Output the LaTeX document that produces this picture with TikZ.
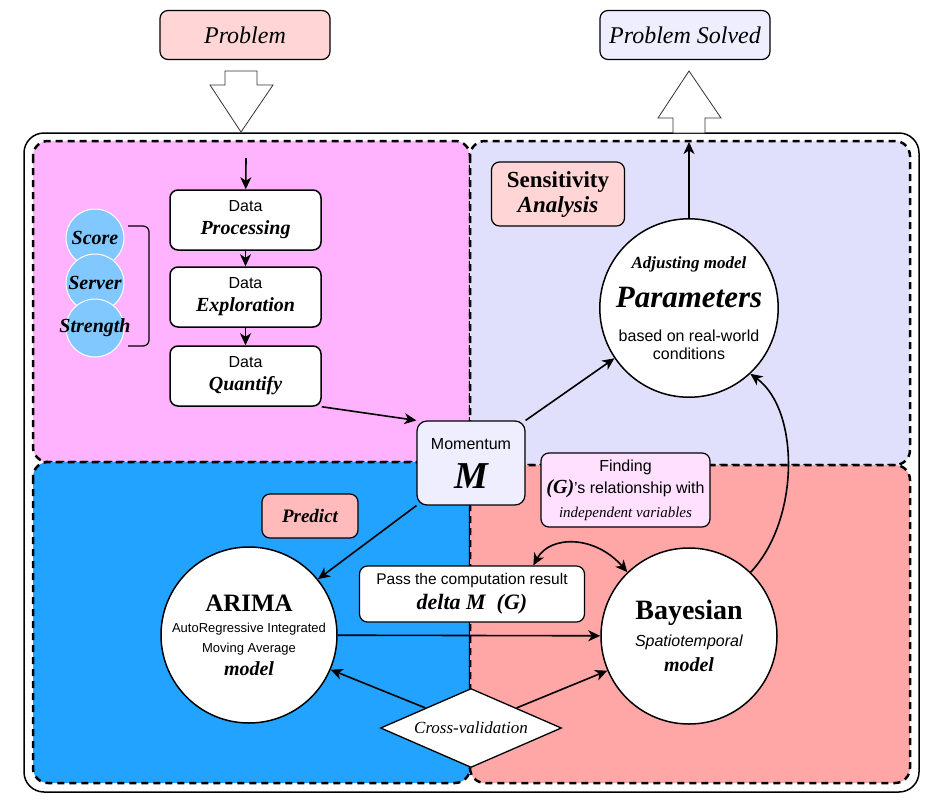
\documentclass[tikz,border=0pt]{standalone}
\usepackage{fontspec}
\setmainfont{Liberation Serif}
\setsansfont{Liberation Sans}
\usetikzlibrary{arrows.meta,shapes.geometric}

\definecolor{pinkzone}{HTML}{FFB3FF}
\definecolor{lavzone}{HTML}{E0E0FC}
\definecolor{bluezone}{HTML}{22A3FF}
\definecolor{salmonzone}{HTML}{FFA6A6}
\definecolor{rosefill}{HTML}{FFD5D5}
\definecolor{palefill}{HTML}{EEEEFF}
\definecolor{predfill}{HTML}{FFBBBB}
\definecolor{findfill}{HTML}{FFE0FF}
\definecolor{dotfill}{HTML}{80C8FF}

\newcommand{\pxfont}[2]{\fontsize{#1}{#2}\selectfont}
\newcommand{\bfit}{\rmfamily\bfseries\itshape}
\lineskiplimit=-100pt

\tikzstyle{zone}=[draw,line width=2.5pt,dash pattern=on 7pt off 5pt,rounded corners=15pt]
\tikzstyle{tagbox}=[draw,line width=1.2pt,rounded corners=8pt,align=center,inner sep=0pt]
\tikzstyle{databox}=[draw,line width=1.5pt,rounded corners=8pt,fill=white,minimum width=151pt,minimum height=60pt,align=center,inner sep=0pt,font=\sffamily\pxfont{16}{23}]
\tikzstyle{model}=[draw,line width=1.5pt,circle,fill=white,minimum size=176pt,inner sep=0pt,align=center]
\tikzstyle{factor}=[circle,draw=white,line width=1pt,fill=dotfill,minimum size=58pt,inner sep=0pt,font=\bfit\pxfont{20}{20}]
\tikzstyle{link}=[draw,line width=1.6pt,>={Stealth[length=12pt,width=11pt,inset=3.5pt]},->]
\tikzstyle{bigarrow}=[draw=black!80,line width=0.8pt,fill=white]

\begin{document}
\begin{tikzpicture}[x=1pt, y=-1pt]
    \useasboundingbox (0,0) rectangle (943,807);
    % First we draw the frame and the four zones
    \draw[line width=1.5pt, rounded corners=20pt] (24,133) rectangle (919,792);
    \foreach \xa/\ya/\xb/\yb/\col in {33/141/470/462/pinkzone, 470/141/910/465/lavzone, 33/462/470/783/bluezone, 470/465/910/783/salmonzone}
        \draw[zone, fill=\col] (\xa,\ya) rectangle (\xb,\yb);

    % Problem in, problem solved out
    \node[tagbox, fill=rosefill, minimum width=170pt, minimum height=49pt, font=\itshape\pxfont{24}{24}] (prob) at (245,35) {Problem};
    \node[tagbox, fill=palefill, minimum width=170pt, minimum height=49pt, font=\itshape\pxfont{24}{24}] (solved) at (685,35) {Problem Solved};
    \path[bigarrow] (225,71) -- (257,71) -- (257,85) -- (273,85) -- (241,132) -- (210,85) -- (225,85) -- cycle;
    \path[bigarrow] (689,71) -- (721,118) -- (705,118) -- (705,133) -- (673,133) -- (673,118) -- (658,118) -- cycle;

    % Data pipeline
    \foreach \y/\name/\word in {220/proc/Processing, 297/expl/Exploration, 376/quan/Quantify}
        \node[databox] (\name) at (245.5,\y) {Data\\{\bfit\pxfont{20}{20}\word}};
    \coordinate (start) at (246,158);
    \foreach \source/\dest in {start/proc, proc/expl, expl/quan}
        \path[link] (\source) -- (\dest);

    % Factors and their bracket
    \foreach \y/\name/\word in {238/score/Score, 283/server/Server, 328/strength/Strength}
        \node[factor] (\name) at (95,\y) {\makebox[0pt]{\word}};
    \draw[line width=1.2pt, rounded corners=6pt] (128,226) -- (149,226) -- (149,346) -- (128,346);

    % Momentum, labels and models
    \node[tagbox, fill=palefill, minimum width=108pt, minimum height=84pt, rounded corners=10pt, font=\sffamily\pxfont{16}{39}] (mom) at (471,463) {Momentum\\{\bfit\pxfont{38}{38}M}};
    \node[model, font=\sffamily\pxfont{16}{18}] (params) at (689,308) {{\bfit\pxfont{17}{17}Adjusting model}\\[21pt]{\bfit\pxfont{31}{31}Parameters}\\[16pt]based on real-world\\conditions};
    \node[tagbox, fill=rosefill, minimum width=133pt, minimum height=64pt, font=\bfseries\pxfont{23}{25}] (sens) at (558,194) {Sensitivity\\\textit{Analysis}};
    \node[tagbox, fill=findfill, minimum width=169pt, minimum height=74pt, font=\sffamily\pxfont{16}{22}] (find) at (625.5,490) {Finding\\{\bfit\pxfont{20}{20}(G)}'s relationship with\\[2pt]{\rmfamily\itshape\pxfont{15}{15}independent variables}};
    \node[tagbox, fill=predfill, minimum width=96pt, minimum height=44pt, font=\bfit\pxfont{19}{19}] (pred) at (310,516) {Predict};
    \node[model, font=\sffamily\pxfont{13}{20}] (arima) at (249,635) {{\rmfamily\bfseries\pxfont{25}{25}ARIMA}\\[1pt]AutoRegressive Integrated\\Moving Average\\[3pt]{\bfit\pxfont{20}{20}model}};
    \node[model, font=\sffamily\pxfont{16}{25}] (bayes) at (689,636) {{\rmfamily\bfseries\pxfont{28}{28}Bayesian}\\[2pt]\textit{Spatiotemporal}\\{\bfit\pxfont{20}{20}model}};
    \node[tagbox, fill=white, minimum width=225pt, minimum height=56pt, font=\sffamily\pxfont{15.5}{25}] (pass) at (472,594) {Pass the computation result\\{\bfit\pxfont{22}{22}delta M\ \ (G)}};
    \node[draw, diamond, shape aspect=2.3, fill=white, line width=1.3pt, minimum width=181pt, minimum height=79pt, inner sep=0pt, font=\rmfamily\itshape\pxfont{17}{17}] (cv) at (471,728) {Cross-validation};

    % Connect everything
    \coordinate (out) at (689,142);
    \path[link] (quan.south east) -- (mom.north west);
    \path[link] (mom.north east) -- (params.214);
    \path[link] (mom.south west) -- (arima.39);
    \path[link] (params.north) -- (out);
    \path[link] (arima) -- (bayes);
    \path[link] (cv.north west) -- (arima.-23);
    \path[link] (cv.north east) -- (bayes.203);
    \path[link, <->] (pass.25) .. controls (550,535) and (595,535) .. (bayes.134);
    \path[link] (bayes.46) .. controls (800,520) and (800,410) .. (params.-47);
\end{tikzpicture}
\end{document}
